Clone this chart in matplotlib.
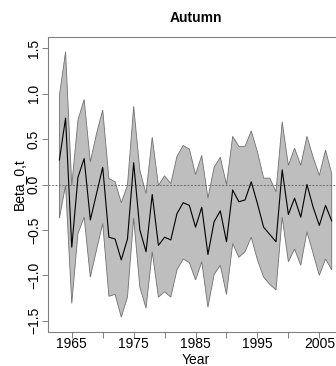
import numpy as np
import matplotlib
matplotlib.use("Agg")
import matplotlib.pyplot as plt

plt.rcParams['font.family'] = ['Liberation Sans', 'DejaVu Sans']

years = list(range(1963, 2008))
mean = [0.27, 0.73, -0.69, 0.08, 0.285, -0.39, -0.10, 0.19, -0.58, -0.60,
        -0.83, -0.60, 0.24, -0.50, -0.74, -0.11, -0.67, -0.58, -0.61, -0.32,
        -0.20, -0.23, -0.47, -0.25, -0.77, -0.41, -0.29, -0.63, -0.06, -0.19,
        -0.17, 0.03, -0.21, -0.47, -0.55, -0.63, 0.16, -0.33, -0.15, -0.36,
        0.00, -0.25, -0.45, -0.23, -0.40]
upper = [0.98, 1.46, -0.01, 0.71, 0.935, 0.25, 0.56, 0.82, 0.066, 0.03,
         -0.20, -0.01, 0.86, 0.157, -0.10, 0.52, -0.01, 0.095, 0.01, 0.31,
         0.43, 0.39, 0.11, 0.32, -0.15, 0.19, 0.30, 0.00, 0.53, 0.42,
         0.42, 0.59, 0.36, 0.07, 0.07, -0.08, 0.69, 0.21, 0.40, 0.21,
         0.53, 0.30, 0.10, 0.38, 0.12]
lower = [-0.37, -0.01, -1.31, -0.54, -0.36, -1.02, -0.72, -0.43, -1.23, -1.21,
         -1.46, -1.24, -0.37, -1.13, -1.36, -0.74, -1.24, -1.18, -1.24, -0.94,
         -0.82, -0.86, -1.05, -0.85, -1.35, -0.99, -0.89, -1.21, -0.65, -0.80,
         -0.74, -0.58, -0.83, -1.02, -1.10, -1.16, -0.36, -0.85, -0.71, -0.89,
         -0.52, -0.76, -1.00, -0.82, -0.94]

xticks = [1965, 1970, 1975, 1980, 1985, 1990, 1995, 2000, 2005]
xticklabels = ['1965', '', '1975', '', '1985', '', '1995', '', '2005']
yticks = [-1.5, -1.0, -0.5, 0.0, 0.5, 1.0, 1.5]
yticklabels = ['\u22121.5', '\u22121.0', '\u22120.5', '0.0', '0.5', '1.0', '1.5']

W, H = 336, 366
fig = plt.figure(figsize=(W / 100, H / 100), dpi=100)
left, right, top, bottom = 48.5, 342.6, 37.3, 331.7
ax = fig.add_axes([left / W, (H - bottom) / H, (right - left) / W, (bottom - top) / H])

poly_x = years + years[::-1]
poly_y = upper + lower[::-1]
ax.fill(poly_x, poly_y, facecolor='#bebebe', edgecolor='#707070', linewidth=0.6)
ax.axhline(0, color='#505050', linestyle=(0, (3, 2)), linewidth=0.5)
ax.plot(years, mean, color='black', linewidth=0.8)

ax.set_xlim(1961.24, 2008.76)
ax.set_ylim(-1.62, 1.62)
ax.set_xticks(xticks)
ax.set_xticklabels(xticklabels, fontsize=10)
ax.set_yticks(yticks)
ax.set_yticklabels(yticklabels, fontsize=10, rotation=90, va='center')
ax.tick_params(axis='both', length=4.5, width=0.7, color='#808080', direction='out')
ax.tick_params(axis='x', pad=-1)
ax.tick_params(axis='y', pad=1)
for s in ax.spines.values():
    s.set_color('#808080')
    s.set_linewidth(0.8)

ax.set_title('Autumn', fontsize=10, fontweight='bold', pad=11)
ax.set_xlabel('Year', fontsize=10, labelpad=2)
ax.set_ylabel('Beta_0,t', fontsize=10, labelpad=1)

fig.savefig('out.png', dpi=100)
